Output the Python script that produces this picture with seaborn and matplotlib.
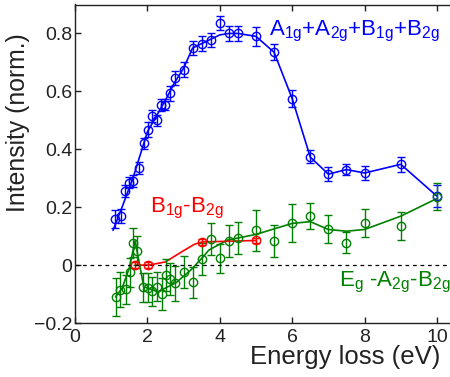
import numpy as np
import pandas as pd
import seaborn as sns
import matplotlib.pyplot as plt

# blue: A1g+A2g+B1g+B2g
blue_x = [1.10, 1.26, 1.38, 1.50, 1.61, 1.77, 1.90, 2.02, 2.13, 2.26, 2.37, 2.49, 2.62, 2.75, 3.01, 3.26, 3.51, 3.76,
          4.0, 4.25, 4.5, 5.0, 5.5, 6.0, 6.5, 7.0, 7.5, 8.0, 9.0, 10.0]
blue_y = [0.159, 0.169, 0.255, 0.285, 0.29, 0.336, 0.42, 0.468, 0.514, 0.50, 0.552, 0.554, 0.593, 0.646, 0.675, 0.75,
          0.765, 0.778, 0.837, 0.80, 0.80, 0.79, 0.735, 0.575, 0.375, 0.314, 0.33, 0.318, 0.348, 0.238]
blue_err = [0.03, 0.025, 0.02, 0.02, 0.02, 0.02, 0.02, 0.025, 0.02, 0.02, 0.02, 0.02, 0.025, 0.025, 0.025, 0.025,
            0.025, 0.025, 0.025, 0.025, 0.025, 0.033, 0.028, 0.03, 0.023, 0.025, 0.02, 0.023, 0.025, 0.038]
blue_line_x = [1.05, 1.3, 1.6, 2.0, 2.5, 2.75, 3.0, 3.25, 3.5, 3.75, 4.0, 4.25, 4.5, 5.0, 5.5, 6.0, 6.5, 7.0, 7.5, 8.0, 9.0, 10.0]
blue_line_y = [0.12, 0.2, 0.3, 0.46, 0.57, 0.63, 0.68, 0.75, 0.765, 0.78, 0.795, 0.80, 0.80, 0.79, 0.735, 0.575, 0.373,
               0.314, 0.33, 0.318, 0.348, 0.238]

# green: Eg-A2g-B2g
green_x = [1.12, 1.25, 1.40, 1.52, 1.61, 1.72, 1.88, 2.01, 2.14, 2.27, 2.39, 2.52, 2.62, 2.76, 3.01, 3.26, 3.51, 3.76,
           4.0, 4.25, 4.5, 5.0, 5.5, 6.0, 6.5, 7.0, 7.5, 8.0, 9.0, 10.0]
green_y = [-0.11, -0.085, -0.083, -0.024, 0.077, 0.05, -0.076, -0.078, -0.09, -0.075, -0.10, -0.035, -0.048, -0.063,
           -0.025, -0.06, 0.022, 0.089, 0.023, 0.083, 0.094, 0.12, 0.083, 0.146, 0.169, 0.125, 0.077, 0.146, 0.135, 0.236]
green_err = [0.065, 0.06, 0.05, 0.05, 0.05, 0.05, 0.05, 0.05, 0.05, 0.05, 0.055, 0.055, 0.055, 0.06, 0.055, 0.055,
             0.055, 0.055, 0.05, 0.055, 0.055, 0.07, 0.056, 0.066, 0.044, 0.049, 0.036, 0.048, 0.049, 0.046]
green_line_x = [1.12, 1.3, 1.5, 1.66, 1.9, 2.3, 2.8, 3.2, 3.55, 3.7, 4.2, 5.0, 6.0, 6.5, 7.0, 7.5, 8.0, 9.0, 10.0]
green_line_y = [-0.11, -0.08, -0.01, 0.084, -0.075, -0.092, -0.06, -0.017, 0.03, 0.052, 0.086, 0.106, 0.144, 0.15,
                0.123, 0.117, 0.123, 0.169, 0.23]

# red: B1g-B2g
red_x = [1.66, 2.03, 3.52, 5.0]
red_y = [0.0, 0.0, 0.08, 0.085]
red_err = [0.01, 0.01, 0.01, 0.01]
red_line_x = [1.66, 2.04, 2.5, 2.95, 3.3, 3.52, 5.0]
red_line_y = [0.0, 0.0, 0.011, 0.046, 0.072, 0.08, 0.085]

x_ticks = [0, 2, 4, 6, 8, 10]
y_ticks = [-0.2, 0, 0.2, 0.4, 0.6, 0.8]
y_tick_labels = ['\u22120.2', '0', '0.2', '0.4', '0.6', '0.8']

BLUE = '#0000ff'
GREEN = '#008000'
RED = '#ff0000'

sns.set_style('ticks')
plt.rcParams['font.family'] = ['Liberation Sans', 'DejaVu Sans']
plt.rcParams['mathtext.default'] = 'regular'

fig = plt.figure(figsize=(4.5, 3.77), dpi=100)
ax = fig.add_axes([75 / 450, 54 / 377, 375 / 450, 318.5 / 377])

sns.lineplot(x=blue_line_x, y=blue_line_y, color=BLUE, lw=1.2, ax=ax)
sns.lineplot(x=green_line_x, y=green_line_y, color=GREEN, lw=1.2, ax=ax)
sns.lineplot(x=red_line_x, y=red_line_y, color=RED, lw=1.2, ax=ax)

for xs, ys, es, c in [(blue_x, blue_y, blue_err, BLUE), (green_x, green_y, green_err, GREEN),
                      (red_x, red_y, red_err, RED)]:
    ax.errorbar(xs, ys, yerr=es, fmt='o', ms=6, mfc='none', mec=c, mew=1.0,
                ecolor=c, elinewidth=1.0, capsize=3, capthick=1.0)

ax.axhline(0, color='black', ls=(0, (3, 3)), lw=0.9)

ax.text(5.36, 0.793, 'A$_{1g}$+A$_{2g}$+B$_{1g}$+B$_{2g}$', color=BLUE, fontsize=16)
ax.text(2.07, 0.183, 'B$_{1g}$-B$_{2g}$', color=RED, fontsize=16)
ax.text(7.29, -0.072, 'E$_g$ -A$_{2g}$-B$_{2g}$', color=GREEN, fontsize=16)

ax.set_xlim(0, 10.36)
ax.set_ylim(-0.2, 0.9)
ax.set_xticks(x_ticks)
ax.set_yticks(y_ticks)
ax.set_yticklabels(y_tick_labels)
ax.tick_params(direction='in', labelsize=14, length=4, width=1, colors='#222222', top=True, pad=2)
ax.tick_params(axis='x', pad=4)
ax.set_xlabel('Energy loss (eV)', fontsize=18.5, color='#222222', ha='right')
ax.xaxis.set_label_coords(0.975, -0.07, transform=ax.transAxes)
ax.xaxis.label.set_va('top')
ax.set_ylabel('Intensity (norm.)', fontsize=17.8, color='#222222')
ax.yaxis.set_label_coords(-0.12, 0.63, transform=ax.transAxes)
ax.spines['right'].set_visible(False)
for s in ['left', 'top', 'bottom']:
    ax.spines[s].set_color('#222222')
    ax.spines[s].set_linewidth(1.0)

fig.savefig('out.png', dpi=100)
